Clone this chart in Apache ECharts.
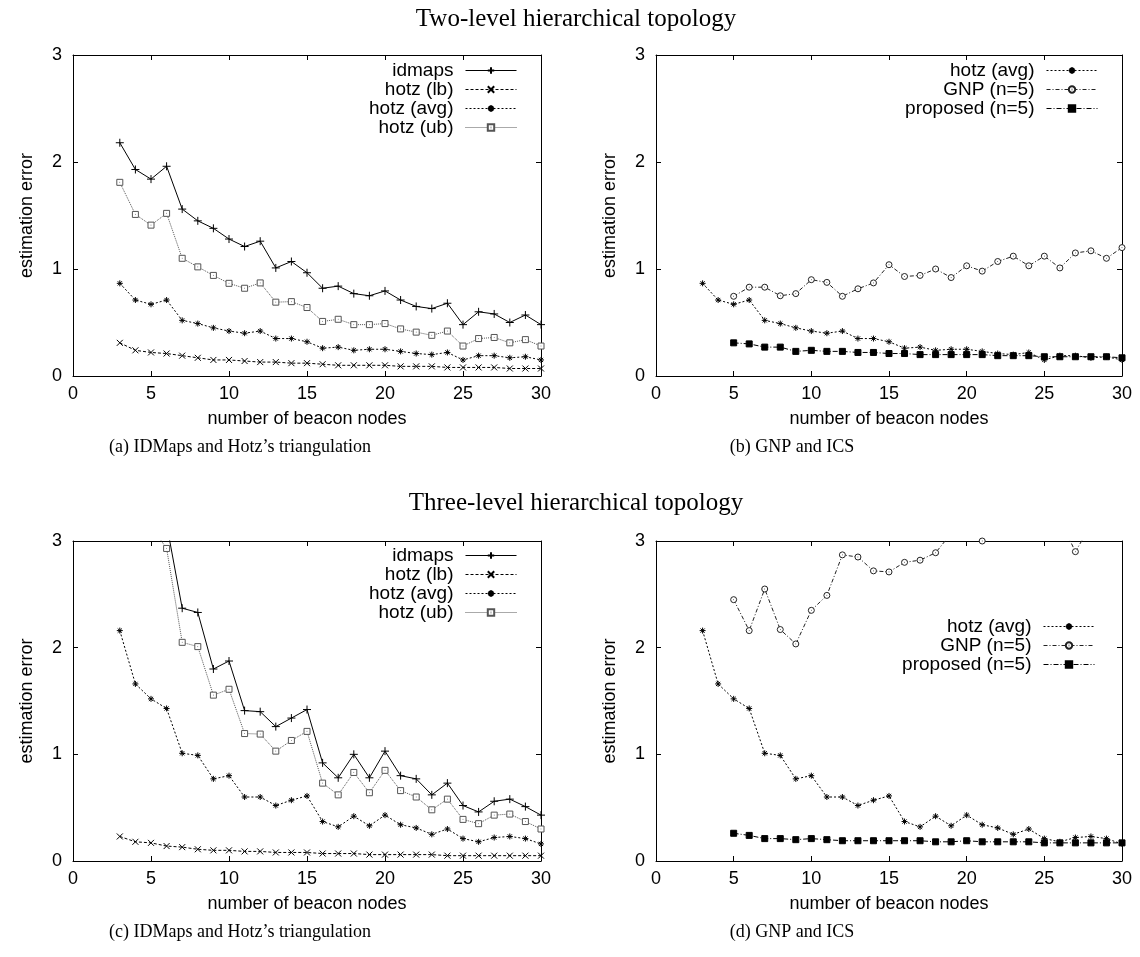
<!DOCTYPE html>
<html>
<head>
<meta charset="utf-8">
<title>estimation error vs number of beacon nodes</title>
<script src="https://cdn.jsdelivr.net/npm/echarts@6/dist/echarts.min.js"></script>
<style>
html, body { margin: 0; padding: 0; background: #fff; }
#chart { width: 1140px; height: 957px; }
</style>
</head>
<body>
<div id="chart"></div>
<script>
// x values (number of beacon nodes)
const beacons = [3, 4, 5, 6, 7, 8, 9, 10, 11, 12, 13, 14, 15, 16, 17, 18, 19, 20, 21, 22, 23, 24, 25, 26, 27, 28, 29, 30];
const beaconsN5 = [5, 6, 7, 8, 9, 10, 11, 12, 13, 14, 15, 16, 17, 18, 19, 20, 21, 22, 23, 24, 25, 26, 27, 28, 29, 30];

// two-level hierarchical topology
const twoIdmaps = [2.18, 1.93, 1.84, 1.96, 1.56, 1.45, 1.38, 1.28, 1.21, 1.26, 1.01, 1.07, 0.965, 0.82, 0.84, 0.77, 0.75, 0.795, 0.71, 0.65, 0.63, 0.68, 0.48, 0.60, 0.58, 0.50, 0.57, 0.48];
const twoHotzLb = [0.31, 0.24, 0.22, 0.21, 0.19, 0.17, 0.15, 0.15, 0.14, 0.13, 0.13, 0.12, 0.12, 0.11, 0.10, 0.10, 0.10, 0.10, 0.09, 0.09, 0.09, 0.08, 0.08, 0.08, 0.08, 0.07, 0.07, 0.07];
const twoHotzAvg = [0.866, 0.71, 0.67, 0.71, 0.52, 0.49, 0.45, 0.42, 0.40, 0.42, 0.35, 0.35, 0.32, 0.26, 0.27, 0.24, 0.25, 0.25, 0.23, 0.21, 0.20, 0.22, 0.15, 0.19, 0.19, 0.17, 0.18, 0.15];
const twoHotzUb = [1.81, 1.51, 1.41, 1.52, 1.10, 1.02, 0.94, 0.866, 0.82, 0.87, 0.69, 0.695, 0.64, 0.51, 0.53, 0.48, 0.48, 0.49, 0.44, 0.41, 0.38, 0.42, 0.28, 0.35, 0.36, 0.31, 0.34, 0.28];
const twoGnp = [0.745, 0.83, 0.83, 0.75, 0.77, 0.90, 0.875, 0.745, 0.815, 0.87, 1.04, 0.93, 0.94, 1.00, 0.92, 1.03, 0.98, 1.07, 1.12, 1.03, 1.12, 1.01, 1.15, 1.17, 1.10, 1.20];
const twoProposed = [0.31, 0.30, 0.27, 0.27, 0.23, 0.24, 0.23, 0.23, 0.22, 0.22, 0.21, 0.21, 0.20, 0.20, 0.20, 0.20, 0.20, 0.19, 0.19, 0.19, 0.18, 0.18, 0.18, 0.18, 0.18, 0.17];

// three-level hierarchical topology (values above 3 run off the top of the plot)
const threeIdmaps = [4.1, 3.7, 3.4, 3.16, 2.37, 2.33, 1.80, 1.875, 1.41, 1.40, 1.26, 1.34, 1.42, 0.92, 0.78, 1.00, 0.78, 1.03, 0.80, 0.77, 0.62, 0.73, 0.52, 0.46, 0.56, 0.58, 0.51, 0.43];
const threeHotzLb = [0.23, 0.18, 0.17, 0.14, 0.13, 0.11, 0.10, 0.10, 0.09, 0.09, 0.08, 0.08, 0.08, 0.07, 0.07, 0.07, 0.06, 0.06, 0.06, 0.06, 0.06, 0.05, 0.05, 0.05, 0.05, 0.05, 0.05, 0.05];
const threeHotzAvg = [2.16, 1.66, 1.52, 1.43, 1.01, 0.99, 0.77, 0.80, 0.60, 0.60, 0.52, 0.57, 0.61, 0.37, 0.32, 0.42, 0.33, 0.43, 0.34, 0.31, 0.25, 0.30, 0.21, 0.18, 0.22, 0.23, 0.21, 0.16];
const threeHotzUb = [3.9, 3.5, 3.14, 2.93, 2.05, 2.01, 1.555, 1.61, 1.195, 1.19, 1.03, 1.13, 1.215, 0.73, 0.62, 0.83, 0.64, 0.85, 0.66, 0.60, 0.48, 0.58, 0.39, 0.35, 0.43, 0.44, 0.37, 0.30];
const threeGnp = [2.45, 2.16, 2.55, 2.17, 2.035, 2.35, 2.49, 2.87, 2.85, 2.72, 2.71, 2.80, 2.82, 2.89, 3.07, 3.2, 3.0, 3.2, 3.3, 3.2, 3.3, 3.2, 2.9, 3.15, 3.3, 3.4];
const threeProposed = [0.26, 0.24, 0.21, 0.21, 0.20, 0.21, 0.20, 0.19, 0.19, 0.19, 0.19, 0.19, 0.19, 0.18, 0.18, 0.19, 0.18, 0.18, 0.18, 0.18, 0.17, 0.17, 0.17, 0.17, 0.17, 0.17];

const sans = 'Liberation Sans';
const serif = 'Liberation Serif';

// gnuplot-like point types (stroked paths, some with a centre dot)
const plusSym = 'path://M0,5L10,5M5,0L5,10';
const crossSym = 'path://M1,1L9,9M9,1L1,9';
const starSym = 'path://M0,5L10,5M5,0L5,10M1.5,1.5L8.5,8.5M8.5,1.5L1.5,8.5';
const boxDotSym = 'path://M0,0L10,0L10,10L0,10Z M4.5,5L5.5,5';
const circleDotSym = 'path://M5,0A5,5,0,1,1,4.99,0Z M4.5,5L5.5,5';

const styles = {
  'idmaps': { symbol: plusSym, size: 8, dash: 'solid', color: '#000', fill: '#000' },
  'hotz (lb)': { symbol: crossSym, size: 6, dash: [3, 2], color: '#000', fill: '#000' },
  'hotz (avg)': { symbol: starSym, size: 6, dash: [2, 2], color: '#000', fill: '#000' },
  'hotz (ub)': { symbol: boxDotSym, size: 6, dash: [1, 1], color: '#555', fill: '#fff' },
  'GNP (n=5)': { symbol: circleDotSym, size: 6, dash: [4, 2, 1, 2], color: '#222', fill: '#fff' },
  'proposed (n=5)': { symbol: 'rect', size: 6, dash: [5, 2, 1, 2], color: '#000', fill: '#000' }
};

function pairs(xs, ys) {
  return xs.map((x, i) => [x, ys[i]]);
}

function line(name, idx, xs, ys) {
  let s = styles[name];
  return {
    name: name,
    type: 'line',
    xAxisIndex: idx,
    yAxisIndex: idx,
    data: pairs(xs, ys),
    symbol: s.symbol,
    symbolSize: s.size,
    clip: true,
    lineStyle: { color: s.color, width: 1, type: s.dash },
    itemStyle: { color: s.fill, borderColor: s.color, borderWidth: 1 },
    emphasis: { disabled: true }
  };
}

const grids = [
  { left: 73, top: 55, width: 468, height: 321 },
  { left: 656, top: 55, width: 466, height: 321 },
  { left: 73, top: 541, width: 468, height: 320 },
  { left: 656, top: 541, width: 466, height: 320 }
];

let xAxes = [];
let yAxes = [];
grids.forEach((g, i) => {
  xAxes.push({
    type: 'value', gridIndex: i, min: 0, max: 30, interval: 5,
    name: 'number of beacon nodes', nameLocation: 'middle', nameGap: 34,
    nameTextStyle: { color: '#000', fontFamily: sans, fontSize: 18 },
    axisLine: { show: true, lineStyle: { color: '#000', width: 1 } },
    axisTick: { inside: true, length: 5, lineStyle: { color: '#000' } },
    axisLabel: { color: '#000', fontFamily: sans, fontSize: 18, margin: 9 },
    splitLine: { show: false }
  });
  yAxes.push({
    type: 'value', gridIndex: i, min: 0, max: 3, interval: 1,
    name: 'estimation error', nameLocation: 'middle', nameGap: 37,
    nameTextStyle: { color: '#000', fontFamily: sans, fontSize: 18 },
    axisLine: { show: true, lineStyle: { color: '#000', width: 1 } },
    axisTick: { inside: true, length: 5, lineStyle: { color: '#000' } },
    axisLabel: { color: '#000', fontFamily: sans, fontSize: 18, margin: 11 },
    splitLine: { show: false }
  });
});
// mirrored top / right axes, ticks only
grids.forEach((g, i) => {
  xAxes.push({
    type: 'value', gridIndex: i, min: 0, max: 30, interval: 5, position: 'top',
    axisLine: { show: true, onZero: false, lineStyle: { color: '#000', width: 1 } },
    axisTick: { inside: true, length: 5, lineStyle: { color: '#000' } },
    axisLabel: { show: false }, splitLine: { show: false }
  });
  yAxes.push({
    type: 'value', gridIndex: i, min: 0, max: 3, interval: 1, position: 'right',
    axisLine: { show: true, onZero: false, lineStyle: { color: '#000', width: 1 } },
    axisTick: { inside: true, length: 5, lineStyle: { color: '#000' } },
    axisLabel: { show: false }, splitLine: { show: false }
  });
});

function legend(names, top, right) {
  return {
    data: names, orient: 'vertical', align: 'right', top: top, right: right,
    padding: 0, itemGap: 0, itemWidth: 51, itemHeight: 8,
    selectedMode: false,
    lineStyle: { width: 1 },
    textStyle: { color: '#000', fontFamily: sans, fontSize: 19, lineHeight: 19, padding: [0, 7, 0, 0] }
  };
}

const hotzNames = ['idmaps', 'hotz (lb)', 'hotz (avg)', 'hotz (ub)'];
const icsNames = ['hotz (avg)', 'GNP (n=5)', 'proposed (n=5)'];

function label(text, x, y, font, size) {
  return {
    type: 'text', x: x, y: y, silent: true,
    style: { text: text, fill: '#000', fontFamily: font, fontSize: size, align: 'center', verticalAlign: 'middle' }
  };
}

const chart = echarts.init(document.getElementById('chart'), null, { renderer: 'canvas' });
chart.setOption({
  animation: false,
  backgroundColor: '#fff',
  grid: grids,
  xAxis: xAxes,
  yAxis: yAxes,
  legend: [
    legend(hotzNames, 61, 623),
    legend(icsNames, 61, 42),
    legend(hotzNames, 546, 623),
    legend(icsNames, 617, 45)
  ],
  graphic: [
    label('Two-level hierarchical topology', 576, 19, serif, 25),
    label('Three-level hierarchical topology', 576, 503, serif, 25),
    label('(a) IDMaps and Hotz\u2019s triangulation', 240, 447, serif, 18),
    label('(b) GNP and ICS', 792, 447, serif, 18),
    label('(c) IDMaps and Hotz\u2019s triangulation', 240, 932, serif, 18),
    label('(d) GNP and ICS', 792, 932, serif, 18)
  ],
  series: [
    line('idmaps', 0, beacons, twoIdmaps),
    line('hotz (lb)', 0, beacons, twoHotzLb),
    line('hotz (avg)', 0, beacons, twoHotzAvg),
    line('hotz (ub)', 0, beacons, twoHotzUb),
    line('hotz (avg)', 1, beacons, twoHotzAvg),
    line('GNP (n=5)', 1, beaconsN5, twoGnp),
    line('proposed (n=5)', 1, beaconsN5, twoProposed),
    line('idmaps', 2, beacons, threeIdmaps),
    line('hotz (lb)', 2, beacons, threeHotzLb),
    line('hotz (avg)', 2, beacons, threeHotzAvg),
    line('hotz (ub)', 2, beacons, threeHotzUb),
    line('hotz (avg)', 3, beacons, threeHotzAvg),
    line('GNP (n=5)', 3, beaconsN5, threeGnp),
    line('proposed (n=5)', 3, beaconsN5, threeProposed)
  ]
});
window.addEventListener('resize', function () {
  chart.resize();
});
</script>
</body>
</html>
